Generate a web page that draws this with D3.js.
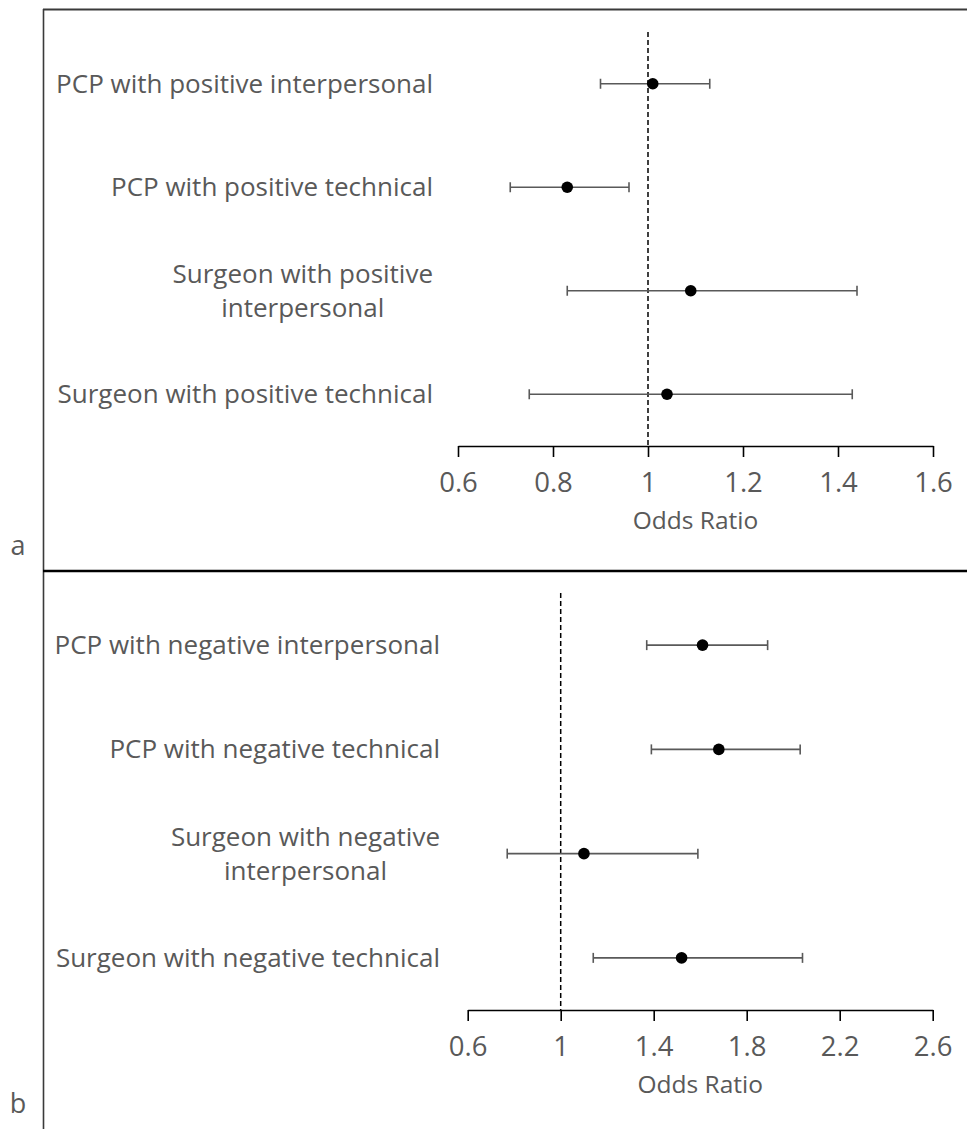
<!DOCTYPE html>
<html>
<head>
<meta charset="utf-8">
<script src="https://cdn.jsdelivr.net/npm/d3@7"></script>
<style>
  body { margin: 0; background: #fff; }
  text { font-family: "Open Sans", Lato, sans-serif; fill: #595959; }
</style>
</head>
<body>
<div id="chart-area"></div>
<script>
// panel a - positive ratings
var catsA = [["PCP with positive interpersonal"],
             ["PCP with positive technical"],
             ["Surgeon with positive", "interpersonal"],
             ["Surgeon with positive technical"]];
var orA = [1.01, 0.83, 1.09, 1.04];
var loA = [0.90, 0.71, 0.83, 0.75];
var hiA = [1.13, 0.96, 1.44, 1.43];
var ticksA = [0.6, 0.8, 1, 1.2, 1.4, 1.6];

// panel b - negative ratings
var catsB = [["PCP with negative interpersonal"],
             ["PCP with negative technical"],
             ["Surgeon with negative", "interpersonal"],
             ["Surgeon with negative technical"]];
var orB = [1.61, 1.68, 1.10, 1.52];
var loB = [1.37, 1.39, 0.77, 1.14];
var hiB = [1.89, 2.03, 1.59, 2.04];
var ticksB = [0.6, 1, 1.4, 1.8, 2.2, 2.6];

var W = 967, H = 1129;

var svg = d3.select("#chart-area")
    .append("svg")
        .attr("width", W)
        .attr("height", H);

// frame lines
svg.append("line")
    .attr("x1", 43).attr("x2", W).attr("y1", 9.5).attr("y2", 9.5)
    .attr("stroke", "#3a3a3a").attr("stroke-width", 2);
svg.append("line")
    .attr("x1", 43.5).attr("x2", 43.5).attr("y1", 9).attr("y2", H)
    .attr("stroke", "#3a3a3a").attr("stroke-width", 1.6);
svg.append("line")
    .attr("x1", 43).attr("x2", W).attr("y1", 571).attr("y2", 571)
    .attr("stroke", "#000").attr("stroke-width", 2.6);

function drawPanel(p) {
    var x = d3.scaleLinear()
        .domain([p.ticks[0], p.ticks[p.ticks.length - 1]])
        .range([p.x0, p.x1]);

    var y = d3.scaleBand()
        .domain(d3.range(p.cats.length))
        .range([p.top, p.axisY]);

    var g = svg.append("g");

    // reference line at OR = 1
    g.append("line")
        .attr("x1", x(1)).attr("x2", x(1))
        .attr("y1", p.top).attr("y2", p.axisY)
        .attr("stroke", "#000")
        .attr("stroke-width", 1.5)
        .attr("stroke-dasharray", "5,3");

    // x axis
    var xAxisCall = d3.axisBottom(x)
        .tickValues(p.ticks)
        .tickSizeInner(11)
        .tickSizeOuter(0)
        .tickPadding(15)
        .tickFormat(function(d){ return String(+d.toFixed(1)); });
    var ax = g.append("g")
        .attr("transform", "translate(0," + p.axisY + ")")
        .call(xAxisCall);
    ax.select(".domain").attr("stroke", "#000").attr("stroke-width", 1.6);
    ax.selectAll(".tick line").attr("stroke", "#000").attr("stroke-width", 1.6);
    ax.selectAll(".tick text")
        .attr("font-size", "27.5px")
        .attr("font-family", "'Open Sans', sans-serif")
        .attr("fill", "#595959");

    g.append("text")
        .attr("x", (p.x0 + p.x1) / 2)
        .attr("y", p.axisY + 83)
        .attr("font-size", "24.5px")
        .attr("text-anchor", "middle")
        .text("Odds Ratio");

    // category labels, right aligned block, lines centred in block
    p.cats.forEach(function(lines, i) {
        var cy = y(i) + y.bandwidth() / 2;
        var lh = 34;
        var lab = g.append("g");
        var texts = lines.map(function(s, j) {
            return lab.append("text")
                .attr("y", cy + (j - (lines.length - 1) / 2) * lh)
                .attr("dy", "0.35em")
                .attr("font-size", "26px")
                .attr("text-anchor", "middle")
                .text(s);
        });
        var wmax = d3.max(texts, function(t){ return t.node().getComputedTextLength(); });
        texts.forEach(function(t){ t.attr("x", p.labelRight - wmax / 2); });
    });

    // error bars
    var rows = g.selectAll(".row")
        .data(p.cats.map(function(c, i){ return { i: i, or: p.or[i], lo: p.lo[i], hi: p.hi[i] }; }))
        .enter().append("g")
        .attr("transform", function(d){ return "translate(0," + (y(d.i) + y.bandwidth() / 2) + ")"; });

    rows.append("line")
        .attr("x1", function(d){ return x(d.lo); })
        .attr("x2", function(d){ return x(d.hi); })
        .attr("stroke", "#595959").attr("stroke-width", 1.6);
    rows.append("line")
        .attr("x1", function(d){ return x(d.lo); })
        .attr("x2", function(d){ return x(d.lo); })
        .attr("y1", -5).attr("y2", 5)
        .attr("stroke", "#595959").attr("stroke-width", 1.6);
    rows.append("line")
        .attr("x1", function(d){ return x(d.hi); })
        .attr("x2", function(d){ return x(d.hi); })
        .attr("y1", -5).attr("y2", 5)
        .attr("stroke", "#595959").attr("stroke-width", 1.6);
    rows.append("circle")
        .attr("cx", function(d){ return x(d.or); })
        .attr("r", 5.8)
        .attr("fill", "#000");

    // panel letter
    svg.append("text")
        .attr("x", 18)
        .attr("y", p.letterY)
        .attr("dy", "0.35em")
        .attr("font-size", "27px")
        .attr("text-anchor", "middle")
        .text(p.letter);
}

drawPanel({ cats: catsA, or: orA, lo: loA, hi: hiA, ticks: ticksA,
            x0: 458, x1: 933, top: 32, axisY: 446, labelRight: 433,
            letter: "a", letterY: 546 });
drawPanel({ cats: catsB, or: orB, lo: loB, hi: hiB, ticks: ticksB,
            x0: 467.7, x1: 932.7, top: 593, axisY: 1010, labelRight: 440,
            letter: "b", letterY: 1104 });
</script>
</body>
</html>
